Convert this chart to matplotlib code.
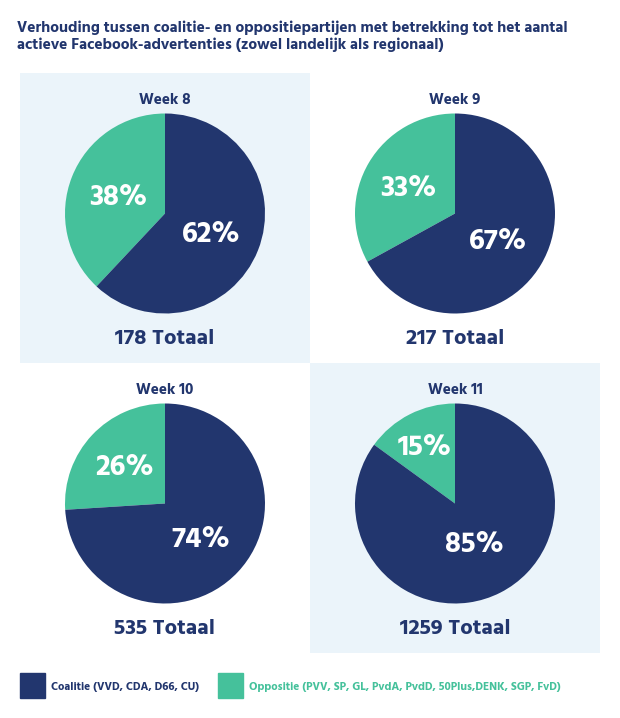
import numpy as np
import matplotlib.pyplot as plt

plt.rcParams['font.family'] = ['Hind', 'Lato', 'DejaVu Sans']

NAVY = '#22366e'
TEAL = '#45c19b'
PANEL_BG = '#ebf4fa'

weeks = ['Week 8', 'Week 9', 'Week 10', 'Week 11']
coalitie = [62, 67, 74, 85]
oppositie = [38, 33, 26, 15]
totaal = [178, 217, 535, 1259]
shaded = [True, False, False, True]

# label distance from centre (fraction of radius): oppositie, coalitie
label_r = [(0.50, 0.50), (0.54, 0.50), (0.56, 0.49), (0.66, 0.43)]

W, H = 620, 718
fig = plt.figure(figsize=(W / 100, H / 100), dpi=100)

fig.text(17 / W, 1 - 28 / H,
         'Verhouding tussen coalitie- en oppositiepartijen met betrekking tot het aantal',
         color=NAVY, fontsize=11.2, fontweight='bold', va='center', ha='left')
fig.text(17 / W, 1 - 45 / H,
         'actieve Facebook-advertenties (zowel landelijk als regionaal)',
         color=NAVY, fontsize=11.2, fontweight='bold', va='center', ha='left')

cells = [(20, 73), (310, 73), (20, 363), (310, 363)]
CELL = 290
R = 100
cx, cy = 145, CELL - 140.5

for i, (x0, y0) in enumerate(cells):
    ax = fig.add_axes([x0 / W, 1 - (y0 + CELL) / H, CELL / W, CELL / H])
    if shaded[i]:
        ax.add_patch(plt.Rectangle((0, 0), CELL, CELL, color=PANEL_BG, zorder=0))

    wedges, _ = ax.pie([oppositie[i], coalitie[i]], colors=[TEAL, NAVY],
                       startangle=90, counterclock=True, center=(cx, cy),
                       radius=R, frame=True)
    ax.set_xlim(0, CELL)
    ax.set_ylim(0, CELL)
    ax.set_aspect('equal')
    ax.axis('off')

    for w, val, rf in zip(wedges, [oppositie[i], coalitie[i]], label_r[i]):
        mid = np.deg2rad((w.theta1 + w.theta2) / 2)
        ax.text(cx + rf * R * np.cos(mid), cy + rf * R * np.sin(mid) - 2, f'{val}%',
                color='white', fontsize=21, fontweight='bold',
                ha='center', va='center')

    ax.text(cx, CELL - 27, weeks[i], color=NAVY, fontsize=11, fontweight='bold',
            ha='center', va='center')
    ax.text(cx, CELL - 265, f'{totaal[i]} Totaal', color=NAVY, fontsize=16,
            fontweight='bold', ha='center', va='center')

# legend
fig.patches.append(plt.Rectangle((20 / W, 1 - 698 / H), 25 / W, 25 / H,
                                 color=NAVY, transform=fig.transFigure, figure=fig))
fig.text(51 / W, 1 - 687 / H, 'Coalitie (VVD, CDA, D66, CU)', color=NAVY,
         fontsize=8.2, fontweight='bold', va='center', ha='left')
fig.patches.append(plt.Rectangle((218 / W, 1 - 698 / H), 25 / W, 25 / H,
                                 color=TEAL, transform=fig.transFigure, figure=fig))
fig.text(249 / W, 1 - 687 / H, 'Oppositie (PVV, SP, GL, PvdA, PvdD, 50Plus,DENK, SGP, FvD)',
         color=TEAL, fontsize=8.2, fontweight='bold', va='center', ha='left')

fig.savefig('out.png', dpi=100, facecolor='white')
